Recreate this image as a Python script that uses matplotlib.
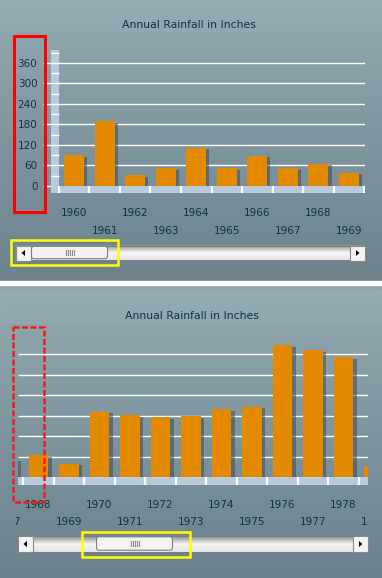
#!/usr/bin/env python3
"""Annual rainfall bar chart, shown twice as a scrolled view with a scrollbar."""
import numpy as np
import matplotlib
matplotlib.use("Agg")
import matplotlib.pyplot as plt
from matplotlib.patches import Rectangle, FancyBboxPatch, Polygon
from matplotlib.transforms import blended_transform_factory, Bbox, TransformedBbox

W, H, DPI = 382, 578, 100

TITLE = "Annual Rainfall in Inches"
years = list(range(1960, 1980))
rainfall = [90, 190, 32, 52, 112, 52, 89, 52, 65, 39,
            192, 182, 176, 179, 199, 206, 386, 371, 351, 33]
ytick_vals = [0, 60, 120, 180, 240, 300, 360]
minor_vals = [30, 90, 150, 210, 270, 330, 390]

BAR = "#e38a00"
SHADOW = "#3d4c54"
BAND = "#b9cbdb"
TEXT = "#0e3440"
FONT = "DejaVu Sans"

fig = plt.figure(figsize=(W / DPI, H / DPI), dpi=DPI)


def px_axes(x0, y0, x1, y1, z):
    ax = fig.add_axes([x0 / W, 1 - y1 / H, (x1 - x0) / W, (y1 - y0) / H])
    ax.set_zorder(z)
    ax.patch.set_alpha(0)
    return ax


# --- background gradients (pixel coords) ---
bg = px_axes(0, 0, W, H, 0)


def vgrad(ax, x0, x1, y0, y1, c_top, c_bot, c_mid=None):
    a = np.array(matplotlib.colors.to_rgb(c_top))
    b = np.array(matplotlib.colors.to_rgb(c_bot))
    t = np.linspace(0, 1, 64)[:, None]
    if c_mid is None:
        g = a + (b - a) * t
    else:
        m = np.array(matplotlib.colors.to_rgb(c_mid))
        g = np.where(t < 0.5, a + (m - a) * (t / 0.5), m + (b - m) * ((t - 0.5) / 0.5))
    ax.imshow(g[:, None, :], extent=(x0, x1, y1, y0), aspect="auto",
              interpolation="bilinear", zorder=0)


vgrad(bg, 0, W, 0, 281, "#92a9b2", "#6c828c")
vgrad(bg, 0, W, 285, H, "#92a9b2", "#6b818b")
bg.add_patch(Rectangle((0, 281), W, 4, color="white", zorder=1))
bg.add_patch(Rectangle((0, 0), W, 31, color="white", alpha=0.04, zorder=1))
bg.add_patch(Rectangle((0, 291), W, 32, color="white", alpha=0.04, zorder=1))
bg.set_xlim(0, W)
bg.set_ylim(H, 0)
bg.axis("off")

fig.text(189 / W, 1 - 25 / H, TITLE, ha="center", va="center",
         fontsize=7.8, color=TEXT, family=FONT)
fig.text(192 / W, 1 - 316 / H, TITLE, ha="center", va="center",
         fontsize=7.8, color=TEXT, family=FONT)


def draw_panel(box, xlim, ylim, row_y, y_axis, clip_px):
    ax = px_axes(*box, z=1)
    lo, hi = xlim
    ybot = ylim[0]
    idx = np.arange(len(years))
    ax.hlines(ytick_vals[1:], lo, hi, color="white", lw=1, zorder=1)
    ax.axhspan(ybot, 0, color=BAND, lw=0, zorder=2)
    ax.vlines(np.arange(-0.5, len(years) + 0.5, 1.0), ybot, 0,
              color="white", lw=1.6, zorder=2.5)
    if y_axis:
        ax.axvspan(lo, -0.5, color=BAND, lw=0, zorder=2)
        ax.hlines(ytick_vals[1:], lo, -0.5, color="white", lw=1, zorder=2.2)
        ax.hlines(minor_vals, lo, -0.5, color="white", lw=1, zorder=2.2)
    # drop shadow then bars
    vals = np.array(rainfall, dtype=float)
    ax.bar(idx + 0.1, vals - 5, 0.655, color=SHADOW, alpha=0.55, zorder=3, lw=0)
    ax.bar(idx, vals, 0.655, color=BAR, zorder=4, lw=0)
    ax.set_xlim(lo, hi)
    ax.set_ylim(*ylim)
    for s in ax.spines.values():
        s.set_visible(False)
    ax.set_xticks([])
    if y_axis:
        ax.set_yticks(ytick_vals, [str(v) for v in ytick_vals])
        ax.tick_params(axis="y", length=5.8, width=1, color="white",
                       labelcolor=TEXT, labelsize=7.5, pad=4)
        for lab in ax.get_yticklabels():
            lab.set_family(FONT)
    else:
        ax.set_yticks([])
    # staggered year labels, clipped to the visible x range (partly hidden
    # labels at the edges stay, as in a scrolled view)
    tr = blended_transform_factory(ax.transData, fig.transFigure)
    clip = TransformedBbox(Bbox([[clip_px[0] / W, 0], [clip_px[1] / W, 1]]),
                           fig.transFigure)
    for i, yr in enumerate(years):
        if i < lo - 0.4 or i > hi + 0.4:
            continue
        y = row_y[yr % 2]
        t = ax.text(i, 1 - y / H, str(yr), transform=tr, ha="center", va="center",
                    fontsize=7.5, color=TEXT, family=FONT, clip_on=True)
        t.set_clip_box(clip)
    return ax


draw_panel((51, 50, 365, 193), (-0.753, 9.522), (-20.5, 398.0),
           {0: 213, 1: 231}, True, (0, 366))
draw_panel((18, 341, 368, 485), (7.328, 18.803), (-23.5, 398.8),
           {0: 505, 1: 522}, False, (16, 366.5))

# --- overlay: scrollbars and highlight boxes (pixel coords) ---
ov = px_axes(0, 0, W, H, 5)


def scrollbar(x0, x1, y0, y1, t0, t1):
    vgrad(ov, x0, x1, y0, y1, "#8e8e8e", "#e6e6e6", "#f6f6f6")
    ov.add_patch(Rectangle((x0, y0), x1 - x0, y1 - y0, fill=False,
                           ec="#7c7c7c", lw=0.8, zorder=2))
    bw = 15
    ym = (y0 + y1) / 2
    for bx, d in ((x0, -1), (x1 - bw, 1)):
        ov.add_patch(Rectangle((bx, y0), bw, y1 - y0, fc="#f4f4f4",
                               ec="#8a8a8a", lw=0.8, zorder=3))
        cx = bx + bw / 2
        ov.add_patch(Polygon([[cx + 2 * d, ym], [cx - 1.5 * d, ym - 3],
                              [cx - 1.5 * d, ym + 3]], closed=True,
                             color="black", lw=0, zorder=4))
    ov.add_patch(FancyBboxPatch((t0, y0 + 0.8), t1 - t0, y1 - y0 - 2.6,
                                boxstyle="round,pad=0,rounding_size=2.5",
                                fc="#f3f3f3", ec="#7e7e7e", lw=0.8, zorder=3))
    gx = (t0 + t1) / 2
    for k in range(-2, 3):
        ov.plot([gx + 2 * k, gx + 2 * k], [ym - 3, ym + 2], color="#8a8a8a",
                lw=0.8, zorder=4)


scrollbar(16, 365, 245.5, 260.5, 31.5, 107.5)
scrollbar(18, 368, 536, 552, 96.5, 172.5)

ov.add_patch(Rectangle((13.5, 36), 31, 175.5, fill=False, ec="#ff0000",
                       lw=2.2, zorder=6))
ov.add_patch(Rectangle((12.5, 327), 31.5, 175, fill=False, ec="#ee1c1c",
                       lw=1.8, ls=(0, (2.4, 1.0)), zorder=6))
ov.add_patch(Rectangle((10.5, 239.5), 107.5, 25.5, fill=False, ec="#ffff00",
                       lw=1.8, zorder=6))
ov.add_patch(Rectangle((82, 532), 108, 25, fill=False, ec="#ffff00",
                       lw=1.8, zorder=6))
ov.set_xlim(0, W)
ov.set_ylim(H, 0)
ov.axis("off")

fig.savefig("out.png", dpi=DPI)
